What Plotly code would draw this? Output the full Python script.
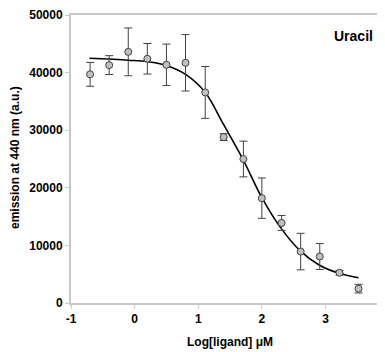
import plotly.graph_objects as go

# Data points (log concentration, emission, error)
log_conc = [-0.70, -0.40, -0.10, 0.20, 0.50, 0.80, 1.11, 1.40, 1.71, 2.00, 2.31, 2.61, 2.91, 3.22, 3.52]
emission = [39700, 41300, 43600, 42400, 41350, 41700, 36560, 28800, 25000, 18200, 13900, 8930, 8070, 5250, 2490]
err = [2070, 1640, 4150, 2650, 3600, 4900, 4500, 600, 3100, 3500, 1300, 3170, 2250, 400, 750]

# Fitted curve
fit_x = [-0.71, -0.40, -0.10, 0.20, 0.50, 0.80, 1.10, 1.40, 1.70, 2.00, 2.30, 2.60, 2.90, 3.20, 3.52]
fit_y = [42490, 42350, 42150, 41900, 41250, 39700, 36700, 30950, 25000, 18300, 13000, 9100, 6600, 5200, 4390]

x_ticks = [-1, 0, 1, 2, 3]
y_ticks = [0, 10000, 20000, 30000, 40000, 50000]

font_family = "Liberation Sans, Arial, sans-serif"

# page body has an 8px default margin; size the figure to fit the window
OFF = 8
W, H = 385 - OFF, 352 - OFF
L, R, T, B = 71 - OFF, 1, 15 - OFF, 49
pw, ph = W - L - R, H - T - B


def px_x(x):  # window pixel -> paper fraction
    return (x - OFF - L) / pw


def px_y(y):
    return 1 - (y - OFF - T) / ph


fig = go.Figure()
fig.add_trace(go.Scatter(
    x=fit_x, y=fit_y, mode="lines",
    line=dict(color="black", width=1.6, shape="spline", smoothing=1.0),
    hoverinfo="skip", showlegend=False,
))
fig.add_trace(go.Scatter(
    x=log_conc, y=emission, mode="markers",
    marker=dict(size=7, color="#c0c0c0", line=dict(color="#404040", width=1)),
    error_y=dict(type="data", array=err, visible=True, color="#404040", thickness=1, width=4),
    showlegend=False,
))

fig.add_annotation(
    x=px_x(353), y=px_y(36), xref="paper", yref="paper",
    text="<b>Uracil</b>", showarrow=False, xanchor="center", yanchor="middle",
    font=dict(size=14, color="black", family=font_family),
)
fig.add_annotation(
    x=px_x(230), y=px_y(342), xref="paper", yref="paper",
    text="<b>Log[ligand] μM</b>", showarrow=False, xanchor="center", yanchor="middle",
    font=dict(size=12, color="black", family=font_family),
)
fig.add_annotation(
    x=px_x(15), y=px_y(158), xref="paper", yref="paper",
    text="<b>emission at 440 nm (a.u.)</b>", showarrow=False, xanchor="center", yanchor="middle",
    textangle=-90,
    font=dict(size=12, color="black", family=font_family),
)

fig.update_layout(
    width=W, height=H,
    margin=dict(l=L, r=R, t=T, b=B),
    paper_bgcolor="white", plot_bgcolor="white",
    font=dict(family=font_family, size=12, color="black"),
    xaxis=dict(
        range=[-1, 3.92], tickvals=x_ticks, ticktext=[str(v) for v in x_ticks],
        showgrid=False, zeroline=False, showline=True, linecolor="#c8c8c8", linewidth=2,
        mirror=True, ticks="outside", ticklen=4, tickcolor="#c8c8c8", tickwidth=1,
        tickfont=dict(size=12, family=font_family, weight="bold"),
        automargin=False, ticklabeloverflow="allow",
    ),
    yaxis=dict(
        range=[0, 50000], tickvals=y_ticks, ticktext=[str(v) for v in y_ticks],
        showgrid=False, zeroline=False, showline=True, linecolor="#c8c8c8", linewidth=2,
        ticks="outside", ticklen=4, tickcolor="#c8c8c8", tickwidth=1,
        tickfont=dict(size=12, family=font_family, weight="bold"),
        automargin=False, ticklabeloverflow="allow",
    ),
)

fig.write_html("out.html")
